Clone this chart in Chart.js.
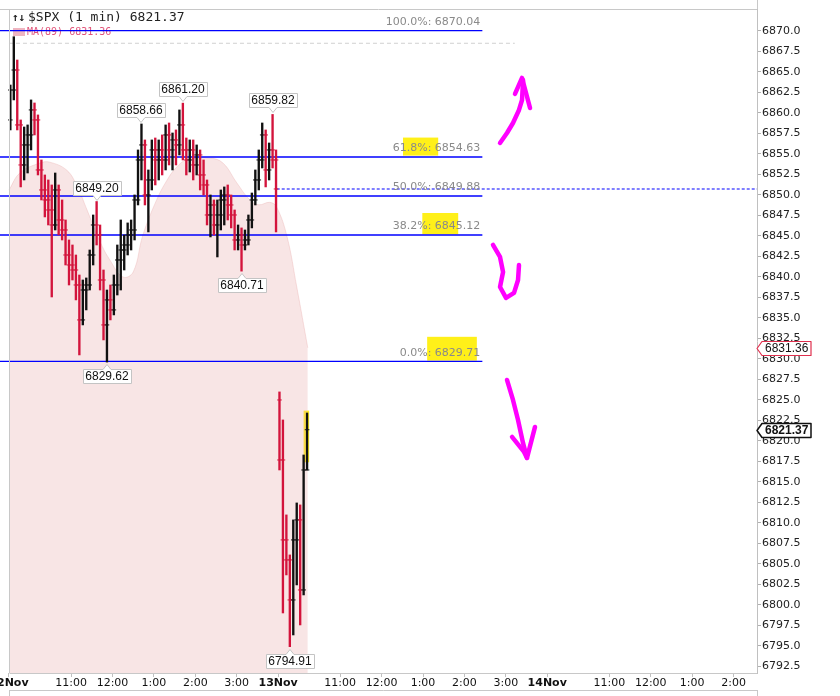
<!DOCTYPE html>
<html>
<head>
<meta charset="utf-8">
<title>$SPX 1 min</title>
<script src="https://cdn.jsdelivr.net/npm/chart.js@4.4.1/dist/chart.umd.min.js"></script>
<style>
    html, body { margin: 0; padding: 0; background: #fff; }
    canvas { display: block; }
</style>
</head>
<body>
<canvas id="myChart" width="840" height="696"></canvas>
<script>
// tijd = minuten sessietijd sinds 12 Nov 9:30 (390 minuten per handelsdag)
const barTimes = [
    2, 7, 12, 17, 22, 27, 32, 37, 42, 47,
    52, 57, 62, 67, 72, 77, 82, 87, 92, 97,
    102, 107, 112, 117, 122, 127, 132, 137, 142, 147,
    152, 157, 162, 167, 172, 177, 182, 187, 192, 197,
    202, 207, 212, 217, 222, 227, 232, 237, 242, 247,
    252, 257, 262, 267, 272, 277, 282, 287, 292, 297,
    302, 307, 312, 317, 322, 327, 332, 337, 342, 347,
    352, 357, 362, 367, 372, 377, 382, 387,
    392, 397, 402, 407, 412, 417, 422, 427, 432
];
const barOpen = [
    6859.15, 6862.80, 6865.24, 6858.54, 6853.66, 6856.10, 6857.32, 6860.37, 6859.15, 6853.05,
    6850.61, 6849.39, 6848.17, 6846.34, 6850.61, 6846.95, 6845.73, 6842.68, 6841.46, 6840.85,
    6839.02, 6834.76, 6838.41, 6839.02, 6842.68, 6846.34, 6845.12, 6839.63, 6834.15, 6837.20,
    6835.98, 6839.02, 6842.07, 6843.29, 6843.90, 6845.12, 6845.73, 6849.39, 6854.27, 6856.10,
    6850.00, 6851.83, 6855.49, 6854.27, 6855.49, 6854.27, 6857.32, 6855.49, 6856.71, 6856.10,
    6858.54, 6855.49, 6854.27, 6855.49, 6853.66, 6854.88, 6852.44, 6851.22, 6847.56, 6848.78,
    6846.34, 6847.56, 6849.39, 6850.00, 6848.78, 6847.56, 6844.51, 6845.12, 6843.90, 6844.51,
    6846.95, 6849.39, 6851.83, 6854.27, 6857.32, 6853.05, 6855.49, 6854.27,
    6825.00, 6817.68, 6807.93, 6805.49, 6800.61, 6807.93, 6810.37, 6801.83, 6816.46
];
const barHigh = [
    6863.41, 6869.30, 6866.46, 6859.15, 6858.29, 6858.54, 6861.59, 6861.22, 6859.76, 6854.27,
    6852.44, 6851.83, 6851.22, 6852.68, 6851.22, 6849.39, 6846.95, 6844.51, 6843.90, 6842.68,
    6840.24, 6839.63, 6839.88, 6843.29, 6847.56, 6849.20, 6846.34, 6840.85, 6838.41, 6839.02,
    6840.24, 6843.90, 6846.95, 6845.12, 6846.59, 6846.95, 6850.00, 6855.49, 6858.66, 6856.71,
    6853.05, 6856.71, 6856.95, 6856.71, 6857.32, 6858.54, 6858.78, 6857.56, 6857.93, 6860.37,
    6861.20, 6856.95, 6856.71, 6856.71, 6856.10, 6855.49, 6854.27, 6851.83, 6850.00, 6849.39,
    6849.39, 6850.61, 6850.98, 6851.22, 6850.00, 6848.17, 6846.34, 6845.98, 6845.73, 6847.56,
    6850.24, 6853.05, 6855.49, 6858.78, 6857.93, 6856.34, 6859.82, 6855.49,
    6825.98, 6822.56, 6810.98, 6806.10, 6810.37, 6812.44, 6812.20, 6818.29, 6823.41
];
const barLow = [
    6857.93, 6861.59, 6857.93, 6850.98, 6851.83, 6852.68, 6855.49, 6857.32, 6852.44, 6849.39,
    6847.32, 6846.34, 6837.56, 6845.73, 6845.12, 6844.51, 6841.46, 6839.02, 6839.63, 6837.20,
    6830.49, 6834.15, 6835.98, 6838.41, 6841.46, 6843.90, 6838.41, 6832.32, 6829.62, 6834.76,
    6835.37, 6837.80, 6838.41, 6840.85, 6842.68, 6843.29, 6844.51, 6848.78, 6851.83, 6848.78,
    6845.49, 6850.61, 6851.22, 6851.83, 6852.44, 6853.05, 6853.66, 6853.05, 6853.66, 6854.88,
    6854.27, 6852.44, 6852.80, 6851.83, 6852.44, 6850.61, 6850.00, 6846.34, 6844.88, 6845.12,
    6842.44, 6845.73, 6846.34, 6846.95, 6845.98, 6843.29, 6843.29, 6840.71, 6843.29, 6843.90,
    6845.98, 6848.78, 6850.61, 6853.29, 6850.98, 6851.83, 6853.29, 6845.49,
    6816.46, 6799.02, 6803.66, 6794.91, 6796.34, 6802.44, 6797.56, 6801.22, 6816.46
];
const barClose = [
    6862.80, 6865.24, 6858.54, 6853.66, 6856.10, 6857.32, 6860.37, 6859.15, 6853.05, 6850.61,
    6849.39, 6848.17, 6846.34, 6850.61, 6846.95, 6845.73, 6842.68, 6841.46, 6840.85, 6839.02,
    6834.76, 6838.41, 6839.02, 6842.68, 6846.34, 6845.12, 6839.63, 6834.15, 6837.20, 6835.98,
    6839.02, 6842.07, 6843.29, 6843.90, 6845.12, 6845.73, 6849.39, 6854.27, 6856.10, 6850.00,
    6851.83, 6855.49, 6854.27, 6855.49, 6854.27, 6857.32, 6855.49, 6856.71, 6856.10, 6858.54,
    6855.49, 6854.27, 6855.49, 6853.66, 6854.88, 6852.44, 6851.22, 6847.56, 6848.78, 6846.34,
    6847.56, 6849.39, 6850.00, 6848.78, 6847.56, 6844.51, 6845.12, 6843.90, 6844.51, 6846.95,
    6849.39, 6851.83, 6854.27, 6857.32, 6853.05, 6855.49, 6854.27, 6850.73,
    6817.68, 6807.93, 6805.49, 6800.61, 6807.93, 6810.37, 6801.83, 6816.46, 6821.37
];

// MA(89)
const maTimes = [0, 16, 45, 59, 84, 99, 113, 132, 146, 165, 180, 194, 214, 229, 243, 258, 291, 310, 330, 349, 362, 378, 388, 403, 417, 433];
const maValues = [6850.6, 6852.7, 6853.9, 6854.0, 6853.0, 6851.0, 6848.2, 6844.3, 6842.1, 6840.0, 6840.6, 6845.1, 6849.4, 6851.8, 6853.4, 6854.3, 6854.5, 6853.9, 6851.5, 6849.4, 6848.8, 6849.1, 6848.5, 6844.9, 6838.8, 6831.36];

// Fibonacci
const fibPct = ['100.0%', '61.8%', '50.0%', '38.2%', '0.0%'];
const fibLevels = [6870.04, 6854.63, 6849.88, 6845.12, 6829.71];
const fibStart = -13;
const fibEnd = 686;

const prevClose = 6850.73;
const highGuide = 6868.5;
const lastPrice = 6821.37;
const maLast = 6831.36;

// x-as labels
const xTickValues = [0, 90, 150, 210, 270, 330, 390, 480, 540, 600, 660, 720, 780, 870, 930, 990, 1050];
const xTickLabels = ['12Nov', '11:00', '12:00', '1:00', '2:00', '3:00', '13Nov', '11:00', '12:00', '1:00', '2:00', '3:00', '14Nov', '11:00', '12:00', '1:00', '2:00'];
const yTickTop = 6870.0;

// labels bij toppen en bodems
const calloutTimes = [127, 142, 192, 252, 337, 382, 407];
const calloutPrices = [6849.20, 6829.62, 6858.66, 6861.20, 6840.71, 6859.82, 6794.91];
const calloutBelow = [false, true, false, false, true, false, true];

// markeerstift en pijlen (tijd, koers)
const markerBoxes = [
    [571, 622, 6857.0, 6854.8],
    [599, 651, 6847.8, 6845.2],
    [606, 678, 6832.7, 6829.8],
    [427, 435, 6823.7, 6817.4]
];
const penStrokes = [
    [[711.6, 6856.34], [721.7, 6857.56], [730.4, 6858.78], [739.1, 6860.37], [743.5, 6861.58], [745.0, 6864.02]],
    [[733.3, 6862.32], [743.5, 6864.27], [755.1, 6860.61]],
    [[701.4, 6843.90], [711.6, 6842.44], [716.0, 6840.61], [711.6, 6838.78], [720.3, 6837.44], [731.9, 6838.05], [737.7, 6839.63], [739.1, 6841.46]],
    [[721.7, 6827.44], [730.4, 6825.0], [737.7, 6822.56], [744.9, 6819.76], [750.7, 6817.93], [762.3, 6821.71]],
    [[729.0, 6820.49], [746.4, 6818.66], [750.7, 6817.93]]
];

const RED = '#d3143c';
const BLACK = '#111111';
const barColors = barOpen.map((o, i) => barClose[i] < o ? RED : BLACK);

Chart.defaults.font.family = '"DejaVu Sans", sans-serif';

function drawCallout(c, x, y, text, below) {
    c.font = '12px "Liberation Sans", Arial, sans-serif';
    var w = Math.round(c.measureText(text).width) + 5;
    var h = 14;
    var bx = Math.round(x - w / 2) + 0.5;
    var by = below ? Math.round(y + 7) + 0.5 : Math.round(y - 7 - h) + 0.5;
    c.beginPath();
    if (below) {
        c.moveTo(bx, by);
        c.lineTo(x - 4, by); c.lineTo(x, by - 5); c.lineTo(x + 4, by);
        c.lineTo(bx + w, by); c.lineTo(bx + w, by + h); c.lineTo(bx, by + h);
    } else {
        c.moveTo(bx, by); c.lineTo(bx + w, by); c.lineTo(bx + w, by + h);
        c.lineTo(x + 4, by + h); c.lineTo(x, by + h + 5); c.lineTo(x - 4, by + h);
        c.lineTo(bx, by + h);
    }
    c.closePath();
    c.fillStyle = '#ffffff';
    c.strokeStyle = '#c4c4c4';
    c.lineWidth = 1;
    c.fill();
    c.stroke();
    c.fillStyle = '#111';
    c.textAlign = 'center';
    c.textBaseline = 'middle';
    c.fillText(text, x, by + h / 2 + 0.5);
}

function drawBadge(c, x0, y, text, border, bold) {
    c.font = (bold ? 'bold ' : '') + '12px "Liberation Sans", Arial, sans-serif';
    var w = Math.round(c.measureText(text).width) + 6;
    var h = 14;
    y = Math.round(y) + 0.5;
    c.beginPath();
    c.moveTo(x0, y);
    c.lineTo(x0 + 5, y - h / 2);
    c.lineTo(x0 + 5 + w, y - h / 2);
    c.lineTo(x0 + 5 + w, y + h / 2);
    c.lineTo(x0 + 5, y + h / 2);
    c.closePath();
    c.fillStyle = '#fff';
    c.fill();
    c.strokeStyle = border;
    c.lineWidth = bold ? 1.5 : 1.2;
    c.stroke();
    c.fillStyle = '#111';
    c.textAlign = 'left';
    c.textBaseline = 'middle';
    c.fillText(text, x0 + 8, y + 0.5);
}

const overlay = {
    id: 'overlay',
    beforeDatasetsDraw(chart) {
        var c = chart.ctx, xs = chart.scales.x, ys = chart.scales.y;
        c.save();
        // markeerstift
        c.fillStyle = 'rgba(255, 238, 0, 0.9)';
        markerBoxes.forEach(b => {
            var x1 = xs.getPixelForValue(b[0]), x2 = xs.getPixelForValue(b[1]);
            var y1 = ys.getPixelForValue(b[2]), y2 = ys.getPixelForValue(b[3]);
            c.fillRect(x1, y1, x2 - x1, y2 - y1);
        });
        // kop
        c.textBaseline = 'middle';
        c.textAlign = 'left';
        c.fillStyle = '#222';
        c.font = 'bold 11px "DejaVu Sans Mono", monospace';
        c.fillText('\u2191\u2193', 12, 18);
        c.font = '13px "DejaVu Sans Mono", monospace';
        c.fillText('$SPX (1 min) ' + lastPrice.toFixed(2), 28, 18);
        c.fillStyle = 'rgba(232, 150, 165, 0.7)';
        c.fillRect(13, 28, 12, 8);
        c.fillStyle = '#e2557a';
        c.font = '10px "DejaVu Sans Mono", monospace';
        c.fillText('MA(89) ' + maLast.toFixed(2), 27, 32);
        c.restore();
    },
    afterDatasetsDraw(chart) {
        var c = chart.ctx, xs = chart.scales.x, ys = chart.scales.y;
        c.save();
        // fib labels
        c.font = '11px "DejaVu Sans", sans-serif';
        c.fillStyle = '#8a8a8a';
        c.textAlign = 'right';
        c.textBaseline = 'middle';
        var xr = xs.getPixelForValue(fibEnd) - 2;
        fibLevels.forEach((lvl, i) => {
            c.fillText(fibPct[i] + ': ' + lvl.toFixed(2), xr, ys.getPixelForValue(lvl) - 8.5);
        });
        // labels bij toppen/bodems
        calloutTimes.forEach((t, i) => {
            drawCallout(c, Math.round(xs.getPixelForValue(t)), ys.getPixelForValue(calloutPrices[i]),
                calloutPrices[i].toFixed(2), calloutBelow[i]);
        });
        c.restore();
    },
    afterDraw(chart) {
        var c = chart.ctx, xs = chart.scales.x, ys = chart.scales.y, a = chart.chartArea;
        c.save();
        // randen
        c.strokeStyle = '#c8c8c8';
        c.lineWidth = 1;
        var lx = Math.round(xs.getPixelForValue(0)) + 0.5;
        c.beginPath();
        c.moveTo(0, a.top + 0.5); c.lineTo(a.right, a.top + 0.5);
        c.moveTo(lx, a.top); c.lineTo(lx, a.bottom);
        c.moveTo(lx, a.bottom + 0.5); c.lineTo(a.right, a.bottom + 0.5);
        c.moveTo(a.right + 0.5, 0); c.lineTo(a.right + 0.5, a.top);
        c.moveTo(lx, 690.5); c.lineTo(a.right + 1, 690.5);
        c.moveTo(lx, 690); c.lineTo(lx, 696);
        c.moveTo(a.right + 0.5, 690); c.lineTo(a.right + 0.5, 696);
        c.stroke();
        // pijlen
        c.strokeStyle = '#ff00ff';
        c.lineWidth = 4.5;
        c.lineCap = 'round';
        c.lineJoin = 'round';
        penStrokes.forEach(s => {
            c.beginPath();
            s.forEach((p, i) => {
                var x = xs.getPixelForValue(p[0]), y = ys.getPixelForValue(p[1]);
                if (i === 0) c.moveTo(x, y); else c.lineTo(x, y);
            });
            c.stroke();
        });
        // koerslabels op de as
        drawBadge(c, a.right, ys.getPixelForValue(maLast), maLast.toFixed(2), '#e0304e', false);
        drawBadge(c, a.right, ys.getPixelForValue(lastPrice), lastPrice.toFixed(2), '#111', true);
        c.restore();
    }
};

// datasets opbouwen
var datasets = [];
datasets.push({
    type: 'line',
    data: maTimes.map((t, i) => ({ x: t, y: maValues[i] })),
    fill: 'start',
    backgroundColor: 'rgba(232, 168, 168, 0.30)',
    borderColor: 'rgba(232, 168, 168, 0.35)',
    borderWidth: 1,
    pointRadius: 0,
    tension: 0.4,
    order: 10
});
fibLevels.forEach(lvl => {
    datasets.push({
        type: 'line',
        data: [{ x: fibStart, y: lvl }, { x: fibEnd, y: lvl }],
        borderColor: '#0000ff',
        borderWidth: 1.4,
        pointRadius: 0,
        order: 5
    });
});
datasets.push({
    type: 'line',
    data: [{ x: 388, y: prevClose }, { x: 1084, y: prevClose }],
    borderColor: '#0000ff',
    borderWidth: 1.2,
    borderDash: [3, 2],
    pointRadius: 0,
    order: 5
});
datasets.push({
    type: 'line',
    data: [{ x: 0, y: highGuide }, { x: 733, y: highGuide }],
    borderColor: '#d0d0d0',
    borderWidth: 1,
    borderDash: [4, 3],
    pointRadius: 0,
    order: 6
});
datasets.push({
    type: 'bar',
    data: barTimes.map((t, i) => ({ x: t, y: [barLow[i], barHigh[i]] })),
    backgroundColor: barColors,
    borderWidth: 0,
    barThickness: 1.7,
    order: 2
});
datasets.push({
    type: 'scatter',
    data: barTimes.map((t, i) => ({ x: t, y: barOpen[i] })),
    pointStyle: 'line',
    pointRadius: 2.3,
    pointHoverRadius: 0,
    pointBorderWidth: 1,
    pointBorderColor: barColors,
    order: 1
});
datasets.push({
    type: 'scatter',
    data: barTimes.map((t, i) => ({ x: t, y: barClose[i] })),
    pointStyle: 'line',
    pointRadius: 2.3,
    pointHoverRadius: 0,
    pointBorderWidth: 1,
    pointBorderColor: barColors,
    order: 1
});

const ctx = document.getElementById('myChart').getContext('2d');
const myChart = new Chart(ctx, {
    type: 'bar',
    data: { datasets: datasets },
    options: {
        responsive: false,
        animation: false,
        layout: { autoPadding: false, padding: { top: 9, left: 0, right: 0, bottom: 0 } },
        plugins: {
            legend: { display: false },
            tooltip: { enabled: false }
        },
        scales: {
            x: {
                type: 'linear',
                min: -13,
                max: 1084,
                offset: false,
                border: { display: false },
                grid: { drawOnChartArea: false, offset: false, tickLength: 4, color: '#c0c0c0' },
                afterBuildTicks: (scale) => { scale.ticks = xTickValues.map(v => ({ value: v })); },
                afterFit: (scale) => { scale.height = 23; scale.paddingLeft = 0; scale.paddingRight = 0; },
                ticks: {
                    autoSkip: false,
                    maxRotation: 0,
                    padding: 0,
                    color: '#111',
                    font: (c) => ({ size: 11, weight: xTickLabels[c.index] && xTickLabels[c.index].indexOf('Nov') > 0 ? 'bold' : 'normal' }),
                    callback: (v, i) => xTickLabels[i]
                }
            },
            y: {
                position: 'right',
                min: 6791.70,
                max: 6872.68,
                border: { display: true, color: '#c0c0c0' },
                grid: { drawOnChartArea: false, tickLength: 4, color: (c) => c.tick && c.tick.value > yTickTop ? 'rgba(0,0,0,0)' : '#b0b0b0' },
                afterFit: (scale) => { scale.width = 83; scale.paddingTop = 0; scale.paddingBottom = 0; },
                ticks: {
                    stepSize: 2.5,
                    includeBounds: false,
                    autoSkip: false,
                    padding: 1,
                    color: '#222',
                    font: { size: 11 },
                    callback: (v) => v > yTickTop ? '' : v.toFixed(1)
                }
            }
        }
    },
    plugins: [overlay]
});
</script>
</body>
</html>
